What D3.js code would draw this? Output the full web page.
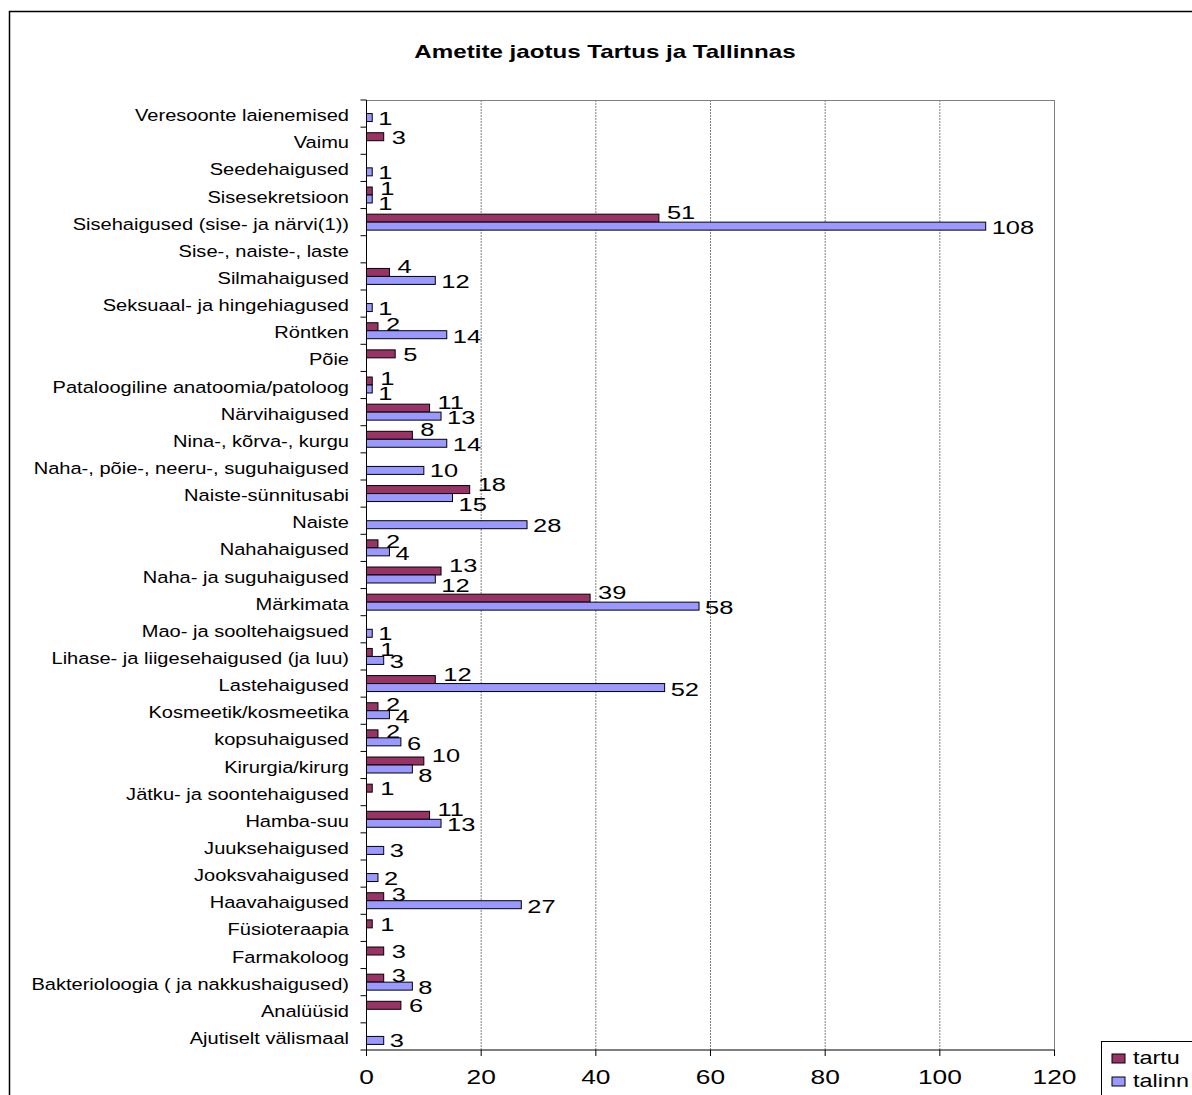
<!DOCTYPE html>
<html>
<head>
<meta charset="utf-8">
<script src="https://cdn.jsdelivr.net/npm/d3@7"></script>
<style>
body { margin: 0; background: white; }
text { font-family: Arial, "Liberation Sans", sans-serif; fill: black; }
</style>
</head>
<body>
<script>
var categories = ['Veresoonte laienemised', 'Vaimu', 'Seedehaigused', 'Sisesekretsioon',
    'Sisehaigused (sise- ja närvi(1))', 'Sise-, naiste-, laste', 'Silmahaigused',
    'Seksuaal- ja hingehiagused', 'Röntken', 'Põie', 'Pataloogiline anatoomia/patoloog',
    'Närvihaigused', 'Nina-, kõrva-, kurgu', 'Naha-, põie-, neeru-, suguhaigused',
    'Naiste-sünnitusabi', 'Naiste', 'Nahahaigused', 'Naha- ja suguhaigused', 'Märkimata',
    'Mao- ja sooltehaigsued', 'Lihase- ja liigesehaigused (ja luu)', 'Lastehaigused',
    'Kosmeetik/kosmeetika', 'kopsuhaigused', 'Kirurgia/kirurg', 'Jätku- ja soontehaigused',
    'Hamba-suu', 'Juuksehaigused', 'Jooksvahaigused', 'Haavahaigused', 'Füsioteraapia',
    'Farmakoloog', 'Bakterioloogia ( ja nakkushaigused)', 'Analüüsid', 'Ajutiselt välismaal'];
var tartu = [null, 3, null, 1, 51, null, 4, null, 2, 5, 1, 11, 8, null, 18, null, 2, 13, 39,
    null, 1, 12, 2, 2, 10, 1, 11, null, null, 3, 1, 3, 3, 6, null];
var talinn = [1, null, 1, 1, 108, null, 12, 1, 14, null, 1, 13, 14, 10, 15, 28, 4, 12, 58,
    1, 3, 52, 4, 6, 8, null, 13, 3, 2, 27, null, null, 8, null, 3];
var seriesNames = ['tartu', 'talinn'];
var seriesColors = ['#993366', '#9999FF'];
var xTicks = [0, 20, 40, 60, 80, 100, 120];

var svg = d3.select('body').append('svg').attr('width', 1192).attr('height', 1095);

// raam ümber kogu joonise
svg.append('rect').attr('x', 9.5).attr('y', 11.5).attr('width', 1300).attr('height', 1200)
    .attr('fill', 'white').attr('stroke', 'black').attr('stroke-width', 1.5);

var x = d3.scaleLinear().domain([0, 120]).range([366.5, 1054.5]);
var y = d3.scaleBand().domain(categories).range([100, 1050]);
var sub = d3.scaleBand().domain(seriesNames).range([0, y.bandwidth()]).paddingOuter(0.7);

// venitatud tekst (originaal on laiaks venitatud)
function tekst(g, tx, ty, str, size, sx, anchor, bold) {
    return g.append('text').attr('transform', 'translate(' + tx + ',' + ty + ') scale(' + sx + ',1)')
        .attr('font-size', size).attr('text-anchor', anchor)
        .attr('font-weight', bold ? 'bold' : 'normal').text(str);
}

tekst(svg, 605, 58, 'Ametite jaotus Tartus ja Tallinnas', 17.5, 1.38, 'middle', true);

// ruudustik
var grid = svg.append('g');
xTicks.slice(1, -1).forEach(function (t) {
    grid.append('line').attr('x1', x(t)).attr('x2', x(t)).attr('y1', 100).attr('y2', 1050)
        .attr('stroke', '#808080').attr('stroke-dasharray', '2,1');
});
grid.append('line').attr('x1', x(0)).attr('x2', x(120)).attr('y1', 100.5).attr('y2', 100.5)
    .attr('stroke', '#808080');
grid.append('line').attr('x1', x(120)).attr('x2', x(120)).attr('y1', 100).attr('y2', 1050)
    .attr('stroke', '#808080');

// tulbad
var bars = svg.append('g');
var data = [tartu, talinn];
data.forEach(function (vals, s) {
    categories.forEach(function (c, i) {
        if (vals[i] == null) return;
        var y0 = y(c) + sub(seriesNames[s]);
        bars.append('rect').attr('x', x(0)).attr('y', y0)
            .attr('width', x(vals[i]) - x(0)).attr('height', sub.bandwidth())
            .attr('fill', seriesColors[s]).attr('stroke', 'black').attr('stroke-width', 1);
        var mid = y0 + sub.bandwidth() / 2;
        var other = data[1 - s][i];
        var shift = 0;
        // kui mõlemad on olemas, nihutame sildid teineteisest eemale
        if (other != null) {
            if (s === 0) shift = vals[i] <= 3 ? -3 : -6;
            else if (tartu[i] > vals[i]) shift = 6;
            else if (tartu[i] === vals[i]) shift = 4;
            else shift = 1;
        }
        var lx = x(vals[i]) + (s === 0 ? 8 : 6);
        tekst(bars, lx, mid + 7 + shift, vals[i], 19, 1.34, 'start', false);
    });
});

// teljed
var axes = svg.append('g');
axes.append('line').attr('x1', x(0)).attr('x2', x(0)).attr('y1', 100).attr('y2', 1050)
    .attr('stroke', 'black');
axes.append('line').attr('x1', x(0) - 6).attr('x2', x(120)).attr('y1', 1050).attr('y2', 1050)
    .attr('stroke', 'black');
categories.forEach(function (c) {
    axes.append('line').attr('x1', x(0) - 6).attr('x2', x(0)).attr('y1', y(c)).attr('y2', y(c))
        .attr('stroke', 'black');
    tekst(axes, 349, y(c) + y.bandwidth() / 2 + 7.5, c, 17, 1.18, 'end', false);
});
xTicks.forEach(function (t) {
    axes.append('line').attr('x1', x(t)).attr('x2', x(t)).attr('y1', 1050).attr('y2', 1056)
        .attr('stroke', 'black');
    tekst(axes, x(t), 1084, t, 19.5, 1.35, 'middle', false);
});

// legend
var legend = svg.append('g');
legend.append('rect').attr('x', 1101.5).attr('y', 1041.5).attr('width', 200).attr('height', 100)
    .attr('fill', 'white').attr('stroke', 'black');
seriesNames.forEach(function (n, i) {
    legend.append('rect').attr('x', 1112).attr('y', 1054 + i * 23).attr('width', 13).attr('height', 9)
        .attr('fill', seriesColors[i]).attr('stroke', 'black');
    tekst(legend, 1133, 1064 + i * 23, n, 18, 1.3, 'start', false);
});
</script>
</body>
</html>
